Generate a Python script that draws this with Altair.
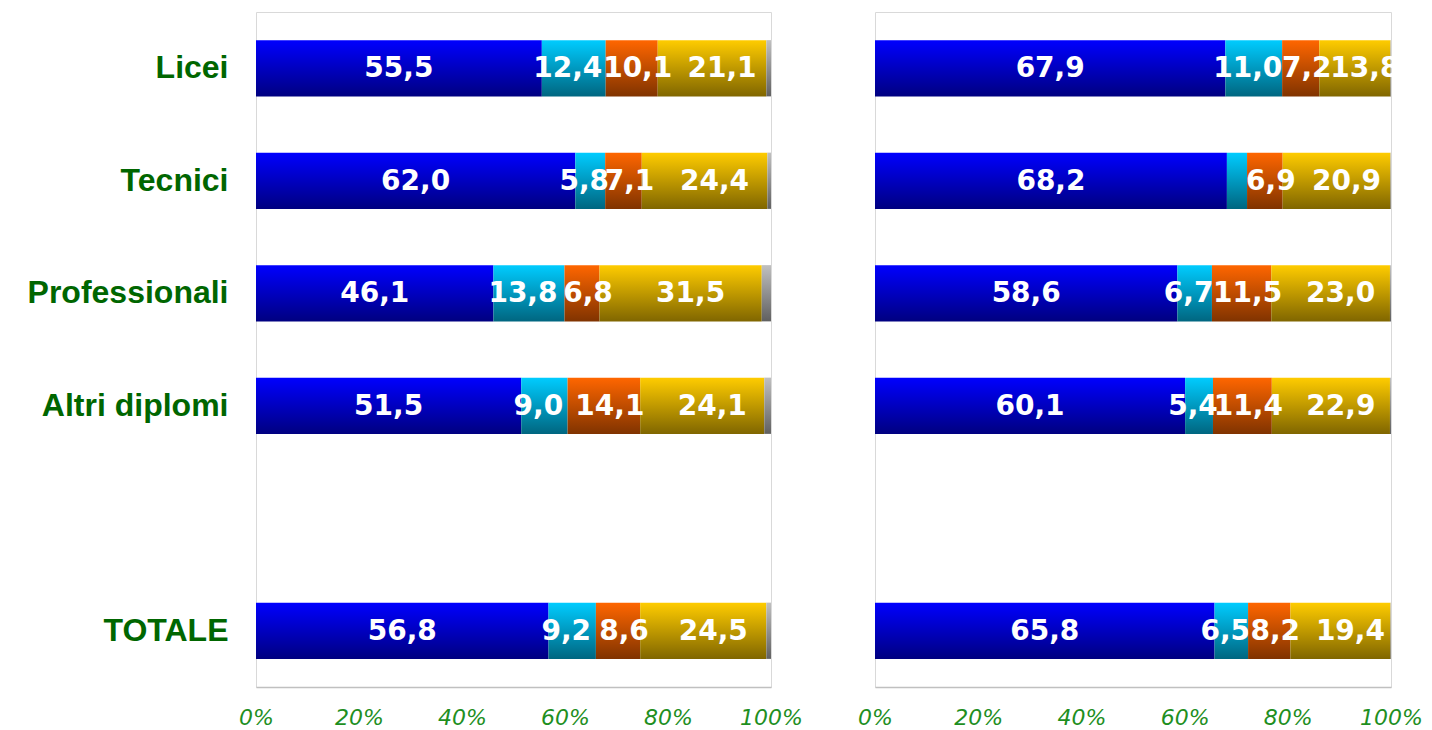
import altair as alt
import pandas as pd

categories = ["Licei", "Tecnici", "Professionali", "Altri diplomi", "TOTALE"]
row_order = ["Licei", "Tecnici", "Professionali", "Altri diplomi", " ", "TOTALE"]
series = ["blu", "azzurro", "arancio", "giallo", "grigio"]

left_values = {
    "blu": [55.5, 62.0, 46.1, 51.5, 56.8],
    "azzurro": [12.4, 5.8, 13.8, 9.0, 9.2],
    "arancio": [10.1, 7.1, 6.8, 14.1, 8.6],
    "giallo": [21.1, 24.4, 31.5, 24.1, 24.5],
    "grigio": [0.9, 0.7, 1.8, 1.3, 0.9],
}
right_values = {
    "blu": [67.9, 68.2, 58.6, 60.1, 65.8],
    "azzurro": [11.0, 3.9, 6.7, 5.4, 6.5],
    "arancio": [7.2, 6.9, 11.5, 11.4, 8.2],
    "giallo": [13.8, 20.9, 23.0, 22.9, 19.4],
    "grigio": [0.1, 0.1, 0.2, 0.2, 0.1],
}
# segments whose value label is not shown in the reference
hidden_labels = [("destra", "Tecnici", "azzurro")]
unlabeled_series = ["grigio"]

gradient_colors = {
    "blu": ("#0000ff", "#000080"),
    "azzurro": ("#00ccff", "#006680"),
    "arancio": ("#ff6600", "#803300"),
    "giallo": ("#ffcc00", "#806600"),
    "grigio": ("#c0c0c0", "#606060"),
}
# horizontal nudge of the value labels of each series (style)
label_dx = {"blu": 0, "azzurro": -6, "arancio": 6, "giallo": 10}

rows = []
for panel_name, vals in [("sinistra", left_values), ("destra", right_values)]:
    for i, cat in enumerate(categories):
        for k, s in enumerate(series):
            v = vals[s][i]
            lab = f"{v:.1f}".replace(".", ",")
            if s in unlabeled_series or (panel_name, cat, s) in hidden_labels:
                lab = ""
            rows.append({"panel": panel_name, "cat": cat, "series": s,
                         "order": k, "value": v, "label": lab})
df = pd.DataFrame(rows)

x_axis = alt.Axis(values=[0, 20, 40, 60, 80, 100], labelExpr="datum.value + '%'",
                  grid=False, ticks=False, domainColor="#c0c0c0", domainWidth=1.5,
                  labelFont="DejaVu Sans", labelFontStyle="italic", labelFontSize=22,
                  labelColor="#1f8f1f", labelPadding=20, title=None,
                  labelOverlap=False, labelFlush=False, labelBound=False)

y_axis_left = alt.Axis(title=None, ticks=False, domain=False,
                       labelFont="Liberation Sans", labelFontWeight="bold",
                       labelFontSize=32, labelColor="#006600", labelPadding=28,
                       minExtent=240, maxExtent=240, labelLimit=400)


def make_panel(name, show_y, width):
    base = alt.Chart(df).transform_filter(alt.datum.panel == name).transform_stack(
        stack="value", groupby=["cat"], as_=["x0", "x1"],
        sort=[alt.SortField(field="order", order="ascending")])
    yenc = alt.Y("cat:N",
                 scale=alt.Scale(domain=row_order, paddingInner=0.5, paddingOuter=0.25),
                 axis=y_axis_left if show_y else None)
    layers = []
    for s in series:
        top, bot = gradient_colors[s]
        grad = alt.LinearGradient(gradient="linear", x1=0, x2=0, y1=0, y2=1,
                                  stops=[alt.GradientStop(color=top, offset=0),
                                         alt.GradientStop(color=bot, offset=1)])
        layers.append(
            base.transform_filter(alt.datum.series == s)
            .mark_bar(color=grad, strokeWidth=0)
            .encode(x=alt.X("x0:Q", scale=alt.Scale(domain=[0, 100], nice=False), axis=x_axis),
                    x2="x1:Q", y=yenc)
        )
    for s, dx in label_dx.items():
        layers.append(
            base.transform_filter((alt.datum.label != "") & (alt.datum.series == s))
            .transform_calculate(mid="(datum.x0 + datum.x1) / 2")
            .mark_text(font="DejaVu Sans", fontWeight="bold", fontSize=28,
                       color="white", baseline="middle", align="center", dy=1, dx=dx)
            .encode(x=alt.X("mid:Q"), y=yenc, text="label:N")
        )
    return alt.layer(*layers).properties(width=width, height=675)


chart = alt.hconcat(make_panel("sinistra", True, 515), make_panel("destra", False, 516),
                    spacing=104, bounds="flush").properties(
    padding={"left": 7, "top": 3, "right": 0, "bottom": 0}
).configure_view(stroke="#d9d9d9")

chart.save("out.html", embed_options={"renderer": "svg", "actions": False})
